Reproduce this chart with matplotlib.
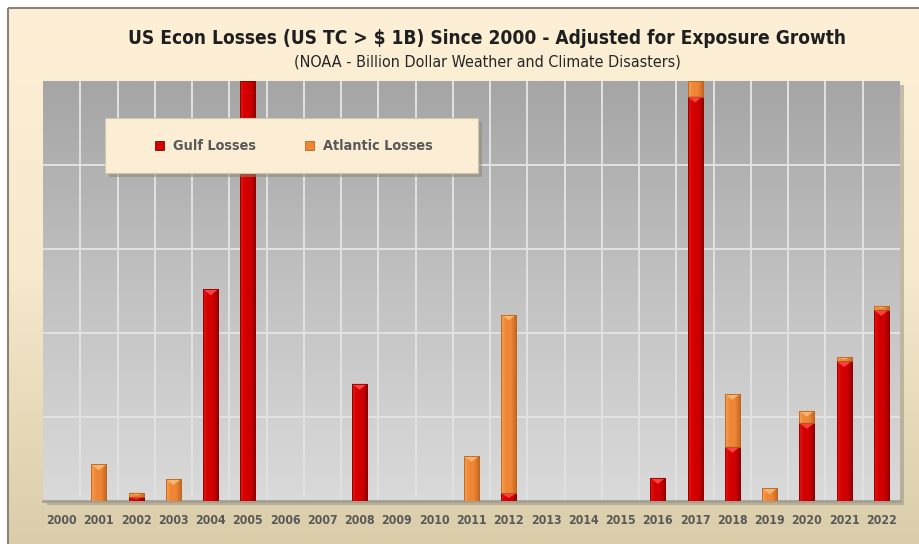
import numpy as np
import matplotlib.pyplot as plt
from matplotlib.patches import Rectangle, Polygon
from matplotlib.colors import LinearSegmentedColormap

# data (arbitrary loss units, gridline every 20)
years = [str(y) for y in range(2000, 2023)]
gulf = [0, 0, 1.0, 0, 50.4, 130, 0, 0, 27.9, 0, 0, 0, 1.8, 0, 0, 0,
        5.5, 96.3, 12.9, 0, 18.6, 33.3, 45.5]
atlantic = [0, 8.7, 1.0, 5.2, 0, 0, 0, 0, 0, 0, 0, 10.7, 42.6, 0, 0, 0,
            0, 8.0, 12.6, 3.0, 2.9, 1.0, 1.0]
series_names = ["Gulf Losses", "Atlantic Losses"]

W, H = 919, 544
fig = plt.figure(figsize=(W / 100, H / 100), dpi=100)
fig.patch.set_facecolor("white")

def fx(px):
    return px / W

def fy(py):
    return 1 - py / H

# outer beige frame with vertical gradient
bg = fig.add_axes([0, 0, 1, 1], zorder=1)
bg.set_axis_off()
bg.set_xlim(0, W)
bg.set_ylim(H, 0)
beige = LinearSegmentedColormap.from_list("beige", ["#FDF0D6", "#F6E9CC", "#D9CDAA"])
grad = np.linspace(0, 1, 256).reshape(-1, 1)
bg.imshow(grad, cmap=beige, extent=[8, W, H, 8], aspect="auto", zorder=0)
bg.add_patch(Rectangle((8, 8), W, H, fill=False, edgecolor="#8C8478", lw=1.5, zorder=1))
# plot area shadow
bg.add_patch(Rectangle((47, 85), 857, 420, facecolor="#9A9382", alpha=0.55, lw=0, zorder=1))

ax_left, ax_right, ax_top, ax_bot = 43, 900, 81, 501
ax = fig.add_axes([fx(ax_left), fy(ax_bot), fx(ax_right - ax_left), (ax_bot - ax_top) / H],
                  zorder=2)
ax.patch.set_visible(False)

ymax = 100
n = len(years)
x = np.arange(n)

# gray gradient plot background
gray = LinearSegmentedColormap.from_list("gray", ["#A5A5A5", "#C2C2C2", "#DADADA"])
ax.imshow(grad, cmap=gray, extent=[-0.5, n - 0.5, 0, ymax], aspect="auto", zorder=0)

# gridlines
for yv in range(20, ymax, 20):
    ax.axhline(yv, color="#E2E2E2", lw=1.4, zorder=1)
for xv in np.arange(0.5, n - 0.5, 1):
    ax.axvline(xv, color="#E2E2E2", lw=1.4, zorder=1)

bar_w = 0.4
px_per_unit = (ax_bot - ax_top) / ymax

def bevel_bar(xc, bottom, height, c_left, c_mid, c_right, c_top, c_edge):
    if height <= 0 or bottom >= ymax:
        return
    top = min(bottom + height, ymax)
    patch = ax.bar(xc, top - bottom, bar_w, bottom=bottom, color=c_mid,
                   edgecolor=c_edge, lw=0.6, zorder=3)[0]
    cm = LinearSegmentedColormap.from_list("b", [c_left, c_mid, c_mid, c_right])
    g = np.linspace(0, 1, 64).reshape(1, -1)
    im = ax.imshow(g, cmap=cm, extent=[xc - bar_w / 2, xc + bar_w / 2, bottom, top],
                   aspect="auto", zorder=3)
    im.set_clip_path(patch)
    if bottom + height <= ymax:
        tri_h = min(6 / px_per_unit, (top - bottom) * 0.6)
        ax.add_patch(Polygon([(xc - bar_w / 2, top), (xc + bar_w / 2, top), (xc, top - tri_h)],
                             closed=True, facecolor=c_top, edgecolor="none", zorder=4))
    ax.add_patch(Rectangle((xc - bar_w / 2, bottom), bar_w, top - bottom, fill=False,
                           edgecolor=c_edge, lw=0.6, zorder=5))

red = ("#E81414", "#D20000", "#9E0000", "#FF4040", "#8A0000")
orange = ("#F9A050", "#EE8636", "#C86A22", "#F8B46C", "#B8651F")

for i in range(n):
    bevel_bar(x[i], 0, gulf[i], *red)
    bevel_bar(x[i], gulf[i], atlantic[i], *orange)

ax.set_xlim(-0.5, n - 0.5)
ax.set_ylim(0, ymax)
ax.set_yticks([])
ax.set_xticks(x)
ax.set_xticklabels(years, fontsize=8.8, fontweight="bold", color="#595959",
                   fontstretch="condensed")
ax.tick_params(axis="x", length=0, pad=9)
for s in ["top", "right", "left"]:
    ax.spines[s].set_visible(False)
ax.spines["bottom"].set_color("#A59F92")
ax.spines["bottom"].set_linewidth(2)

# titles
title_x = fx(487)
fig.text(title_x, fy(38), "US Econ Losses (US TC > $ 1B) Since 2000 - Adjusted for Exposure Growth",
         ha="center", va="center", fontsize=13.7, fontweight="bold", color="#1F1F1F",
         family="DejaVu Sans", stretch="condensed", zorder=5)
fig.text(title_x, fy(62), "(NOAA - Billion Dollar Weather and Climate Disasters)",
         ha="center", va="center", fontsize=11.5, color="#262626",
         family="DejaVu Sans", stretch="condensed", zorder=5)

# legend box on its own overlay
lg = fig.add_axes([0, 0, 1, 1], zorder=3)
lg.set_axis_off()
lg.patch.set_visible(False)
lg.set_xlim(0, W)
lg.set_ylim(H, 0)
lg.add_patch(Rectangle((109, 122), 373, 55, facecolor="#8E8778", alpha=0.55, lw=0))
lg.add_patch(Rectangle((105, 118), 373, 55, facecolor="#FBEED4", edgecolor="#CFC6AE", lw=0.8))
leg_items = [(155, red), (305, orange)]
for (lx, col), name in zip(leg_items, series_names):
    lg.add_patch(Rectangle((lx, 141), 9, 9, facecolor=col[1], edgecolor=col[4], lw=0.6))
    lg.text(lx + 18, 146, name, ha="left", va="center", fontsize=10.4, fontweight="bold",
            color="#595959", stretch="condensed")

fig.savefig("out.png", dpi=100)
